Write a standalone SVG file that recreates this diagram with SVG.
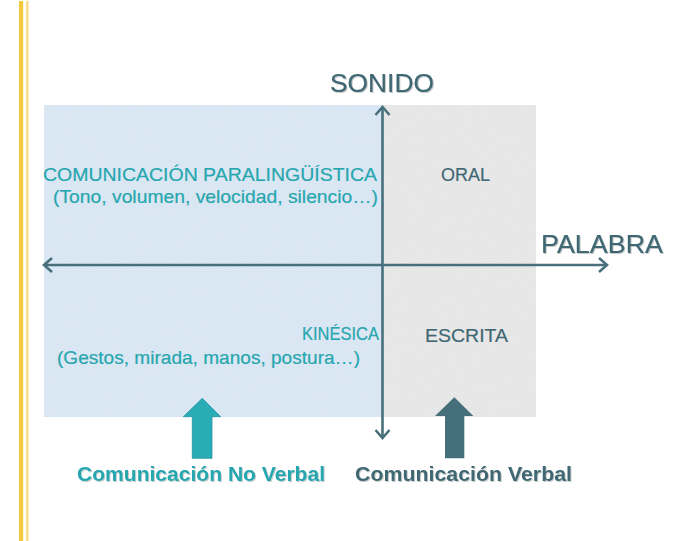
<svg xmlns="http://www.w3.org/2000/svg" width="683" height="541" viewBox="0 0 683 541">
  <style>
    .lbl { font-family: "Liberation Sans", Arial, sans-serif; }
    .teal { fill: #26a6ae; stroke: #26a6ae; stroke-width: 0.2; }
    .dark { fill: #3f6773; stroke: #3f6773; stroke-width: 0.2; }
    .axis { stroke: #48707c; stroke-width: 2.6; fill: none; }
    .bold { font-weight: bold; stroke-width: 0; }
  </style>
  <defs>
    <filter id="noise" x="0" y="0" width="100%" height="100%">
      <feTurbulence type="fractalNoise" baseFrequency="0.9" numOctaves="2" seed="3" result="n"/>
      <feColorMatrix in="n" type="matrix" values="0 0 0 0 0  0 0 0 0 0  0 0 0 0 0  0 0 0 0.08 0" result="a"/>
      <feComposite in="a" in2="SourceGraphic" operator="in" result="b"/>
      <feMerge><feMergeNode in="SourceGraphic"/><feMergeNode in="b"/></feMerge>
    </filter>
    <filter id="shadow" x="-5%" y="-20%" width="110%" height="140%">
      <feDropShadow dx="1" dy="1" stdDeviation="0.6" flood-color="#000" flood-opacity="0.22"/>
    </filter>
  </defs>

  <g id="border">
    <rect x="19" y="1" width="4.2" height="540" fill="#f4c83f"/>
    <rect x="26" y="1" width="2.6" height="540" fill="#f9df8c"/>
  </g>

  <g id="no-verbal-area">
    <rect x="44" y="105" width="339" height="312" fill="#deebf8" filter="url(#noise)"/>
  </g>
  <g id="verbal-area">
    <rect x="383" y="105" width="153" height="312" fill="#ebebeb" filter="url(#noise)"/>
  </g>

  <g id="connectors">
    <line class="axis" x1="382.5" y1="107" x2="382.5" y2="438"/>
    <polyline class="axis" points="375.5,115 382.5,107 389.5,115"/>
    <polyline class="axis" points="375.5,430 382.5,438 389.5,430"/>
    <line class="axis" x1="44" y1="265" x2="607" y2="265"/>
    <polyline class="axis" points="52,258 44,265 52,272"/>
    <polyline class="axis" points="599,258 607,265 599,272"/>
  </g>

  <g id="sonido">
    <text class="lbl dark" x="330" y="92" font-size="26.5" textLength="104" lengthAdjust="spacingAndGlyphs" filter="url(#shadow)">SONIDO</text>
  </g>
  <g id="palabra">
    <text class="lbl dark" x="541" y="253" font-size="26.5" textLength="122" lengthAdjust="spacingAndGlyphs" filter="url(#shadow)">PALABRA</text>
  </g>

  <g id="paralinguistica">
    <text class="lbl teal" x="43" y="181" font-size="19" textLength="334" lengthAdjust="spacingAndGlyphs">COMUNICACIÓN PARALINGÜÍSTICA</text>
    <text class="lbl teal" x="53" y="203" font-size="19" textLength="325" lengthAdjust="spacingAndGlyphs">(Tono, volumen, velocidad, silencio…)</text>
  </g>
  <g id="oral">
    <text class="lbl dark" x="441" y="181" font-size="18.5" textLength="49" lengthAdjust="spacingAndGlyphs">ORAL</text>
  </g>
  <g id="kinesica">
    <text class="lbl teal" x="302" y="340" font-size="18" textLength="77" lengthAdjust="spacingAndGlyphs">KINÉSICA</text>
    <text class="lbl teal" x="57" y="364" font-size="19" textLength="303" lengthAdjust="spacingAndGlyphs">(Gestos, mirada, manos, postura…)</text>
  </g>
  <g id="escrita">
    <text class="lbl dark" x="425" y="342" font-size="18.5" textLength="83" lengthAdjust="spacingAndGlyphs">ESCRITA</text>
  </g>

  <g id="arrow-no-verbal">
    <polygon points="202.3,398.3 220.7,416.7 212,416.7 212,458.3 192.3,458.3 192.3,416.7 183.3,416.7" fill="#2aacb4" stroke="#2397a0" stroke-width="0.8"/>
  </g>
  <g id="arrow-verbal">
    <polygon points="454.3,397.3 473.3,416 464.3,416 464.3,458.3 445,458.3 445,416 435,416" fill="#456f7b"/>
  </g>

  <g id="label-no-verbal">
    <text class="lbl teal bold" x="77" y="481" font-size="20.5" textLength="248" lengthAdjust="spacingAndGlyphs" filter="url(#shadow)">Comunicación No Verbal</text>
  </g>
  <g id="label-verbal">
    <text class="lbl dark bold" x="355" y="481" font-size="20.5" textLength="217" lengthAdjust="spacingAndGlyphs" filter="url(#shadow)">Comunicación Verbal</text>
  </g>
</svg>
